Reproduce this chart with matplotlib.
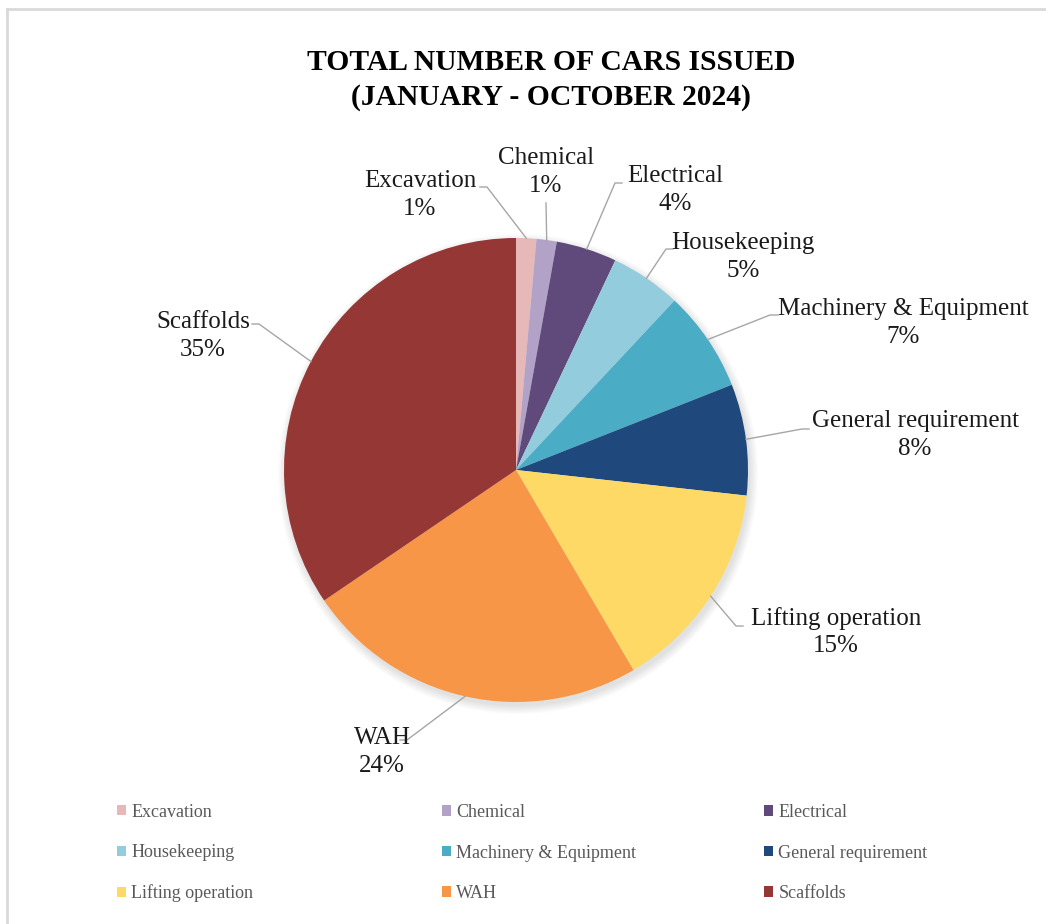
import numpy as np
import matplotlib
matplotlib.use("Agg")
import matplotlib.pyplot as plt
from matplotlib.lines import Line2D
from matplotlib.patches import Circle

W, H = 1046, 924  # figure size in px

# data (counts)
categories = ["Excavation", "Chemical", "Electrical", "Housekeeping",
              "Machinery & Equipment", "General requirement",
              "Lifting operation", "WAH", "Scaffolds"]
counts = [2, 2, 6, 7, 10, 11, 21, 34, 49]
colors = ["#E6B9B8", "#B3A2C7", "#604A7B", "#93CDDD", "#4BACC6",
          "#1F497D", "#FFD966", "#F79646", "#953735"]

# label layout (px, measured from top-left): text centre, leader start
label_xy = [(420, 195), (546, 172), (675, 190), (743, 257), (903, 323),
            (915, 435), (836, 632), (382, 752), (203, 336)]
leader_start = [(480, 187), (546, 203), (622, 183), (673, 249), (778, 315),
                (809, 429), (743, 626), (400, 740), (252, 324)]
elbow = [7, 0, -7, -7, -8, -7, -7, 7, 7]

plt.rcParams['font.family'] = ['Liberation Serif', 'DejaVu Serif']


def px(x, y):
    return x, H - y


fig = plt.figure(figsize=(W / 100, H / 100), dpi=100)
ax = fig.add_axes([0, 0, 1, 1])

cx, cy = px(516, 470)
R = 232

# soft shadow under the pie
for i in range(10):
    ax.add_patch(Circle((cx + 2, cy - 4), R + i * 0.9, color="black",
                        alpha=0.012, lw=0, zorder=0))

wedges, _ = ax.pie(counts, colors=colors, startangle=90, counterclock=False,
                   center=(cx, cy), radius=R,
                   wedgeprops=dict(linewidth=0, zorder=2))

ax.set_xlim(0, W)
ax.set_ylim(0, H)
ax.set_aspect('equal')
ax.axis('off')

total = sum(counts)
for i, w in enumerate(wedges):
    pct = counts[i] / total * 100
    tx, ty = px(*label_xy[i])
    ax.text(tx, ty, f"{categories[i]}\n{pct:.0f}%", ha='center', va='center',
            fontsize=18, color='#1a1a1a', linespacing=1.35, zorder=4)
    mid = np.deg2rad((w.theta1 + w.theta2) / 2)
    ex, ey = cx + R * np.cos(mid), cy + R * np.sin(mid)
    sx, sy = px(*leader_start[i])
    xs = [sx, sx + elbow[i], ex]
    ys = [sy, sy, ey]
    ax.plot(xs, ys, color='#A6A6A6', lw=1.0, zorder=3)

fig.text(551 / W, 1 - 80 / H, "TOTAL NUMBER OF CARS ISSUED\n(JANUARY - OCTOBER 2024)",
         ha='center', va='center', fontsize=21.3, fontweight='bold',
         color='black', linespacing=1.35)

# legend: three columns, three rows each
col_x = [117, 442, 764]
for c in range(3):
    idx = [c, c + 3, c + 6]
    fig.legend([wedges[j] for j in idx], [categories[j] for j in idx],
               loc='center left', bbox_to_anchor=(col_x[c] / W, 1 - 853 / H),
               frameon=False, fontsize=13, labelcolor='#595959',
               handlelength=0.5, handleheight=0.5, handletextpad=0.3,
               labelspacing=1.3, borderpad=0, borderaxespad=0)

# chart border (only top and left visible in the crop)
fig.add_artist(Line2D([7 / W, 7 / W], [0, 1 - 9 / H], color='#D9D9D9', lw=2))
fig.add_artist(Line2D([7 / W, 1], [1 - 9 / H, 1 - 9 / H], color='#D9D9D9', lw=2))

fig.savefig("out.png", dpi=100, facecolor='white')
